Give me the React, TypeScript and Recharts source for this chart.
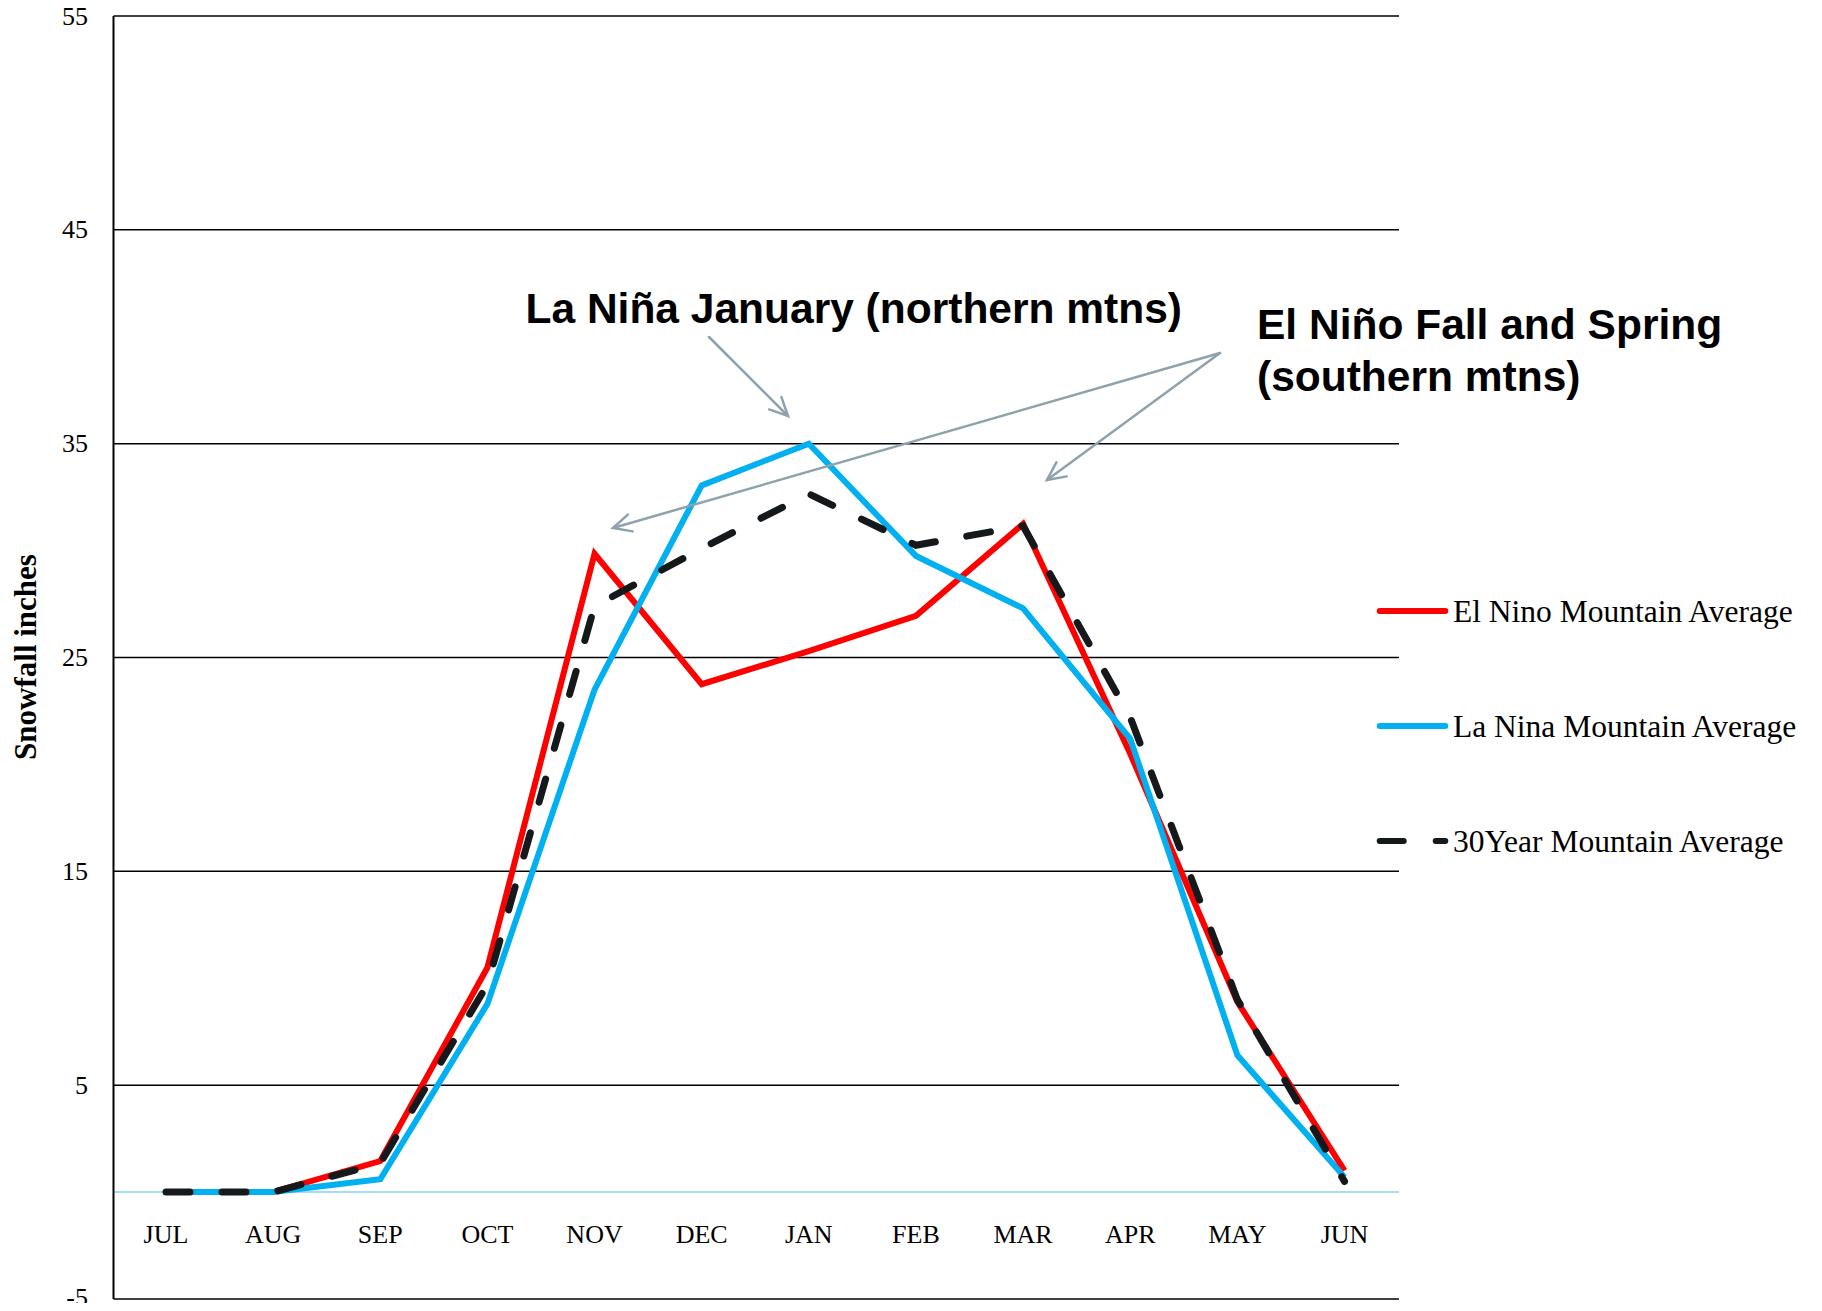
import React from 'react';
import { LineChart, Line, XAxis, YAxis, CartesianGrid, ReferenceLine } from 'recharts';

const months = ['JUL', 'AUG', 'SEP', 'OCT', 'NOV', 'DEC', 'JAN', 'FEB', 'MAR', 'APR', 'MAY', 'JUN'];
const elNino = [0, 0, 1.45, 10.5, 29.85, 23.75, 25.3, 26.95, 31.25, 20.5, 8.9, 1.0];
const laNina = [0, 0, 0.6, 8.8, 23.5, 33.05, 35.0, 29.75, 27.3, 21.2, 6.4, 0.7];
const thirtyYear = [0, 0, 1.35, 9.7, 27.4, 30.1, 32.65, 30.25, 31.15, 22.2, 9.0, 0.5];
const yTicks = [-5, 5, 15, 25, 35, 45, 55];

const seriesNames = ['El Nino Mountain Average', 'La Nina Mountain Average', '30Year Mountain Average'];
const seriesColors = ['#ff0000', '#00b0f0', '#15191c'];

const data = months.map((m, i) => ({
  month: m,
  elNino: elNino[i],
  laNina: laNina[i],
  thirtyYear: thirtyYear[i],
}));

const SERIF = "'Liberation Serif', 'Times New Roman', serif";
const SANS = "'Liberation Sans', Arial, sans-serif";
const DASH = '24 32';
const ARROW = '#8ea2ac';

const MonthTick = (props: any) => {
  const { x, y, payload } = props;
  return (
    <text x={x} y={y - 56} textAnchor="middle" fontFamily={SERIF} fontSize={26} fill="#000">
      {payload.value}
    </text>
  );
};

const ValueTick = (props: any) => {
  const { x, y, payload } = props;
  // keep the bottom label (-5) inside the picture
  const dy = payload.value === -5 ? 6.5 : 8.5;
  return (
    <text x={x} y={y + dy} textAnchor="end" fontFamily={SERIF} fontSize={26} fill="#000">
      {payload.value}
    </text>
  );
};

// open "V" arrow head at the end of a callout line
const Arrow = ({ x1, y1, x2, y2 }: { x1: number; y1: number; x2: number; y2: number }) => {
  const ang = Math.atan2(y2 - y1, x2 - x1);
  const len = 20;
  const spread = 0.45;
  const w1 = [x2 - len * Math.cos(ang - spread), y2 - len * Math.sin(ang - spread)];
  const w2 = [x2 - len * Math.cos(ang + spread), y2 - len * Math.sin(ang + spread)];
  return (
    <g stroke={ARROW} strokeWidth={2.5} fill="none" strokeLinecap="round">
      <line x1={x1} y1={y1} x2={x2} y2={y2} />
      <polyline points={`${w1[0]},${w1[1]} ${x2},${y2} ${w2[0]},${w2[1]}`} />
    </g>
  );
};

export default function App() {
  return (
    <div style={{ position: 'relative', margin: -8, width: 1822, height: 1311, background: '#fff' }}>
      <LineChart width={1822} height={1311} data={data} margin={{ top: 16, right: 423, bottom: 2, left: 0 }}>
        <CartesianGrid vertical={false} stroke="#000" strokeWidth={1.5} />
        <XAxis
          dataKey="month"
          height={10}
          padding={{ left: 52.5, right: 54.5 }}
          axisLine={false}
          tickLine={false}
          tickSize={0}
          tickMargin={0}
          interval={0}
          tick={<MonthTick />}
        />
        <YAxis
          type="number"
          domain={[-5, 55]}
          ticks={yTicks}
          interval={0}
          width={113.5}
          tickSize={0}
          tickMargin={25.5}
          axisLine={{ stroke: '#000', strokeWidth: 2 }}
          tickLine={false}
          tick={<ValueTick />}
        />
        <ReferenceLine y={0} stroke="#86cff2" strokeWidth={1.5} />
        <Line
          dataKey="elNino"
          name={seriesNames[0]}
          stroke={seriesColors[0]}
          strokeWidth={6}
          dot={false}
          activeDot={false}
          isAnimationActive={false}
        />
        <Line
          dataKey="laNina"
          name={seriesNames[1]}
          stroke={seriesColors[1]}
          strokeWidth={6}
          dot={false}
          activeDot={false}
          isAnimationActive={false}
        />
        <Line
          dataKey="thirtyYear"
          name={seriesNames[2]}
          stroke={seriesColors[2]}
          strokeWidth={7}
          strokeDasharray={DASH}
          strokeLinecap="round"
          dot={false}
          activeDot={false}
          isAnimationActive={false}
        />
      </LineChart>

      <svg
        width={1822}
        height={1311}
        style={{ position: 'absolute', left: 0, top: 0, pointerEvents: 'none' }}
      >
        {/* y axis title */}
        <text
          x={0}
          y={0}
          transform="translate(36, 657) rotate(-90)"
          textAnchor="middle"
          fontFamily={SERIF}
          fontWeight="bold"
          fontSize={31}
          fill="#000"
        >
          Snowfall inches
        </text>

        {/* callouts */}
        <text x={525.5} y={323} fontFamily={SANS} fontWeight="bold" fontSize={42.5} fill="#000">
          La Niña January (northern mtns)
        </text>
        <text x={1257} y={339} fontFamily={SANS} fontWeight="bold" fontSize={42.5} fill="#000">
          El Niño Fall and Spring
        </text>
        <text x={1257} y={391} fontFamily={SANS} fontWeight="bold" fontSize={42.5} fill="#000">
          (southern mtns)
        </text>
        <Arrow x1={709} y1={337} x2={788} y2={416} />
        <Arrow x1={1220} y1={353} x2={613} y2={528} />
        <Arrow x1={1220} y1={353} x2={1047} y2={480} />

        {/* legend */}
        {seriesNames.map((name, i) => {
          const y = 611 + i * 115;
          return (
            <g key={name}>
              <line
                x1={1379.7}
                x2={1445.3}
                y1={y}
                y2={y}
                stroke={seriesColors[i]}
                strokeWidth={6}
                strokeLinecap="round"
                strokeDasharray={i === 2 ? DASH : undefined}
              />
              <text x={1453} y={y + 11} fontFamily={SERIF} fontSize={31.5} fill="#000">
                {name}
              </text>
            </g>
          );
        })}
      </svg>
    </div>
  );
}
